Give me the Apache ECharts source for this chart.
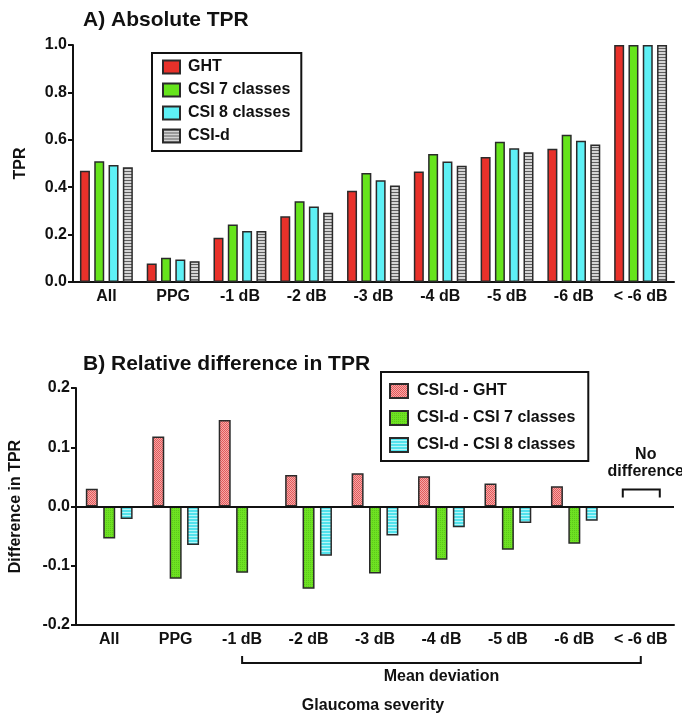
<!DOCTYPE html>
<html>
<head>
<meta charset="utf-8">
<script src="https://cdn.jsdelivr.net/npm/echarts@6/dist/echarts.min.js"></script>
<style>
  html, body { margin: 0; padding: 0; background: #fff; }
  #chart { width: 682px; height: 715px; }
</style>
</head>
<body>
<div id="chart"></div>
<script>
var categories = ['All', 'PPG', '-1 dB', '-2 dB', '-3 dB', '-4 dB', '-5 dB', '-6 dB', '< -6 dB'];

// A) absolute TPR
var ght   = [0.469, 0.078, 0.187, 0.277, 0.385, 0.466, 0.527, 0.562, 1.0];
var csi7  = [0.510, 0.102, 0.243, 0.341, 0.460, 0.540, 0.592, 0.621, 1.0];
var csi8  = [0.494, 0.095, 0.215, 0.319, 0.429, 0.508, 0.564, 0.596, 1.0];
var csid  = [0.484, 0.088, 0.215, 0.292, 0.407, 0.491, 0.547, 0.580, 1.0];

// B) difference in TPR
var diffGht  = [0.030, 0.118, 0.146, 0.053, 0.056, 0.051, 0.039, 0.034, 0];
var diffCsi7 = [-0.054, -0.122, -0.112, -0.139, -0.113, -0.090, -0.073, -0.063, 0];
var diffCsi8 = [-0.021, -0.065, 0, -0.083, -0.049, -0.035, -0.028, -0.024, 0];

var topTicks = [0, 0.2, 0.4, 0.6, 0.8, 1.0];
var bottomTicks = [-0.2, -0.1, 0, 0.1, 0.2];

var FONT = "'Liberation Sans', Arial, Helvetica, sans-serif";

function pattern(w, h, draw) {
    var c = document.createElement('canvas');
    c.width = w; c.height = h;
    draw(c.getContext('2d'));
    return { image: c, repeat: 'repeat' };
}

var grayStripes = pattern(4, 3, function (g) {
    g.fillStyle = '#d4d4d4'; g.fillRect(0, 0, 4, 3);
    g.fillStyle = '#5e5e5e'; g.fillRect(0, 0, 4, 1);
});
var redHatch = pattern(4, 4, function (g) {
    g.fillStyle = '#e25a5a'; g.fillRect(0, 0, 4, 4);
    g.fillStyle = '#f6a8a8';
    for (var i = 0; i < 4; i++) g.fillRect((i + 1) % 4, i, 1, 1);
    for (var j = 0; j < 4; j++) g.fillRect((j + 3) % 4, j, 1, 1);
});
var greenDots = pattern(2, 2, function (g) {
    g.fillStyle = '#6ee222'; g.fillRect(0, 0, 2, 2);
    g.fillStyle = '#5cc81a'; g.fillRect(0, 0, 1, 1);
});
var cyanStripes = pattern(2, 3, function (g) {
    g.fillStyle = '#b6f6f8'; g.fillRect(0, 0, 2, 3);
    g.fillStyle = '#52e2ec'; g.fillRect(0, 0, 2, 2);
});

var border = { borderColor: '#2a2a2a', borderWidth: 1.5 };
function style(color) {
    return Object.assign({ color: color }, border);
}
// a zero difference is drawn as no bar at all
function noZeroBars(values) {
    return values.map(function (v) {
        return v === 0 ? { value: 0, itemStyle: { borderWidth: 0, opacity: 0 } } : v;
    });
}

var labelText = { color: '#111', fontFamily: FONT, fontWeight: 'bold', fontSize: 16 };
var axisLine = { lineStyle: { color: '#111', width: 2 } };
var axisTick = { length: 5, lineStyle: { color: '#111', width: 2 } };

var chart = echarts.init(document.getElementById('chart'));

var option = {
    animation: false,
    backgroundColor: '#fff',
    title: [
        { text: 'A) Absolute TPR', left: 78, top: 5,
          textStyle: { fontFamily: FONT, fontWeight: 'bold', fontSize: 21, color: '#111' } },
        { text: 'B) Relative difference in TPR', left: 78, top: 349,
          textStyle: { fontFamily: FONT, fontWeight: 'bold', fontSize: 21, color: '#111' } }
    ],
    legend: [
        {
            data: ['GHT', 'CSI 7 classes', 'CSI 8 classes', 'CSI-d'],
            orient: 'vertical', left: 152, top: 53,
            padding: [6, 11, 7, 10],
            borderColor: '#111', borderWidth: 2,
            itemWidth: 17, itemHeight: 13, itemGap: 7,
            icon: 'rect',
            textStyle: Object.assign({ lineHeight: 16, padding: [0, 0, 0, 3] }, labelText)
        },
        {
            data: ['CSI-d - GHT', 'CSI-d - CSI 7 classes', 'CSI-d - CSI 8 classes'],
            orient: 'vertical', left: 381, top: 372,
            padding: [11, 13, 8, 8],
            borderColor: '#111', borderWidth: 2,
            itemWidth: 18, itemHeight: 14, itemGap: 11,
            icon: 'rect',
            textStyle: Object.assign({ lineHeight: 16, padding: [0, 0, 0, 4] }, labelText)
        }
    ],
    grid: [
        { left: 73, width: 601, top: 45, height: 237 },
        { left: 73, width: 601, top: 388, height: 237 }
    ],
    xAxis: [
        { type: 'category', gridIndex: 0, data: categories,
          axisLine: axisLine, axisTick: Object.assign({ alignWithLabel: true }, axisTick),
          axisLabel: Object.assign({ margin: 7, interval: 0 }, labelText) },
        { type: 'category', gridIndex: 1, data: categories,
          axisLine: Object.assign({ onZero: false }, axisLine),
          axisTick: Object.assign({ alignWithLabel: true }, axisTick),
          axisLabel: Object.assign({ margin: 7, interval: 0 }, labelText) }
    ],
    yAxis: [
        { type: 'value', gridIndex: 0, min: topTicks[0], max: topTicks[topTicks.length - 1], interval: 0.2,
          name: 'TPR', nameLocation: 'middle', nameGap: 44, nameRotate: 90,
          nameTextStyle: labelText,
          axisLine: { show: true, lineStyle: axisLine.lineStyle },
          axisTick: { show: true, length: 5, lineStyle: axisTick.lineStyle },
          splitLine: { show: false },
          axisLabel: Object.assign({ margin: 6, formatter: function (v) { return v.toFixed(1); } }, labelText) },
        { type: 'value', gridIndex: 1, min: bottomTicks[0], max: bottomTicks[bottomTicks.length - 1], interval: 0.1,
          name: 'Difference in TPR', nameLocation: 'middle', nameGap: 52, nameRotate: 90,
          nameTextStyle: labelText,
          axisLine: { show: true, onZero: false, lineStyle: axisLine.lineStyle },
          axisTick: { show: true, length: 5, lineStyle: axisTick.lineStyle },
          splitLine: { show: false },
          axisLabel: Object.assign({ margin: 6, formatter: function (v) { return v.toFixed(1); } }, labelText) }
    ],
    series: [
        { name: 'GHT', type: 'bar', xAxisIndex: 0, yAxisIndex: 0, data: ght,
          barWidth: 10, barGap: '43%', itemStyle: style('#e8312a') },
        { name: 'CSI 7 classes', type: 'bar', xAxisIndex: 0, yAxisIndex: 0, data: csi7,
          barWidth: 10, barGap: '43%', itemStyle: style('#66e41c') },
        { name: 'CSI 8 classes', type: 'bar', xAxisIndex: 0, yAxisIndex: 0, data: csi8,
          barWidth: 10, barGap: '43%', itemStyle: style('#5ef0f5') },
        { name: 'CSI-d', type: 'bar', xAxisIndex: 0, yAxisIndex: 0, data: csid,
          barWidth: 10, barGap: '43%', itemStyle: style(grayStripes) },

        { name: 'CSI-d - GHT', type: 'bar', xAxisIndex: 1, yAxisIndex: 1, data: noZeroBars(diffGht),
          barWidth: 12, barGap: '45%', itemStyle: style(redHatch),
          markLine: { silent: true, symbol: 'none', label: { show: false }, z: 10,
                      lineStyle: { color: '#111', width: 2, type: 'solid' },
                      data: [{ yAxis: 0 }] } },
        { name: 'CSI-d - CSI 7 classes', type: 'bar', xAxisIndex: 1, yAxisIndex: 1, data: noZeroBars(diffCsi7),
          barWidth: 12, barGap: '45%', itemStyle: style(greenDots) },
        { name: 'CSI-d - CSI 8 classes', type: 'bar', xAxisIndex: 1, yAxisIndex: 1, data: noZeroBars(diffCsi8),
          barWidth: 12, barGap: '45%', itemStyle: style(cyanStripes) }
    ]
};
chart.setOption(option);

// annotations: "Mean deviation" bracket and "No difference" bracket
var xA = chart.convertToPixel({ xAxisIndex: 1 }, '-1 dB');
var xB = chart.convertToPixel({ xAxisIndex: 1 }, '< -6 dB');
var yZero = chart.convertToPixel({ yAxisIndex: 1 }, 0);
var textStyle = { fill: '#111', font: 'bold 16px ' + FONT, textAlign: 'center', textVerticalAlign: 'middle' };
var lineStyle = { stroke: '#111', lineWidth: 2, fill: null };

chart.setOption({
    graphic: [
        { type: 'polyline', shape: { points: [[xA, 656], [xA, 663], [xB, 663], [xB, 656]] }, style: lineStyle },
        { type: 'text', x: (xA + xB) / 2, y: 677, style: Object.assign({ text: 'Mean deviation' }, textStyle) },
        { type: 'text', x: 373, y: 706, style: Object.assign({ text: 'Glaucoma severity' }, textStyle) },
        { type: 'polyline', shape: { points: [[xB - 18, yZero - 9], [xB - 18, yZero - 17], [xB + 19, yZero - 17], [xB + 19, yZero - 9]] },
          style: lineStyle },
        { type: 'text', x: xB + 5, y: yZero - 52, style: Object.assign({ text: 'No' }, textStyle) },
        { type: 'text', x: xB + 5, y: yZero - 35, style: Object.assign({ text: 'difference' }, textStyle) }
    ]
});
</script>
</body>
</html>
